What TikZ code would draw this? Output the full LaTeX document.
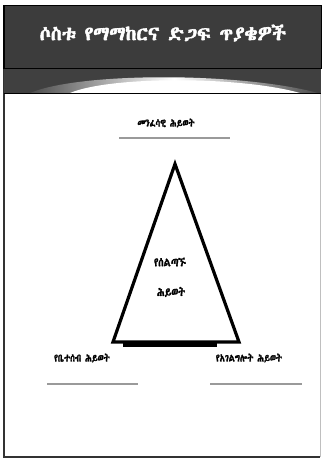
\documentclass[tikz,border=0pt]{standalone}
\usepackage{fontspec}
\usetikzlibrary{shadings}
\IfFontExistsTF{Abyssinica SIL}{\newfontfamily\ethfont{Abyssinica SIL}[FakeBold=2.5]}{\newfontfamily\ethfont{DejaVu Sans}}
\definecolor{band}{HTML}{3C3C3C}
\definecolor{rule}{HTML}{9A9A9A}
\newcommand{\tallt}[1]{\scalebox{1}[1.25]{#1}}
\tikzset{
  lbl/.style={font=\ethfont\fontsize{8.5}{10}\selectfont, inner sep=1pt},
  clbl/.style={font=\ethfont\fontsize{9.7}{11}\selectfont, inner sep=1pt},
  rulel/.style={draw=rule, line width=1.6pt},
}
\begin{document}
\begin{tikzpicture}[x=1pt,y=-1pt]
\useasboundingbox (0,0) rectangle (322,459);
\fill[white] (0,0) rectangle (322,459);
% page frame
\draw[black!80, line width=1.5pt] (4,69) -- (4,457) -- (320,457);
\draw[black!25, line width=1pt] (320,69) -- (320,457);
% title band
\fill[band] (4,5) rectangle (321,68);
\draw[black, line width=1pt] (4,5) rectangle (321,68);
\node[font=\ethfont\fontsize{19.6}{21}\selectfont, text=white] (title) at (163,33) {ሶስቱ የማማከርና ድጋፍ ጥያቄዎች};
% gradient strip
\fill[black!75] (4,69) rectangle (321,93);
\shade[left color=black!70, right color=black!70, middle color=white]
  (30,93) .. controls (80,72) and (240,72) .. (318,93) -- cycle;
\fill[white] (70,93) .. controls (110,76) and (240,76) .. (300,93) -- cycle;
\draw[black, line width=1pt] (4,93) -- (321,93);
% triangle
\coordinate (apex) at (175,164);
\coordinate (bl) at (113,342);
\coordinate (br) at (239,342);
\draw[black, line width=3.2pt, line join=miter] (apex) -- (br) -- (bl) -- cycle;
\fill[black] (123,342) rectangle (217,347);
% labels
\node[lbl] (top) at (166,123) {\tallt{መንፈሳዊ ሕይወት}};
\coordinate (t1) at (119,138); \coordinate (t2) at (230,138);
\draw[rulel] (t1) -- (t2);
\node[clbl] (c1) at (170,262) {\tallt{የሰልጣኙ}};
\node[clbl] (c2) at (171,292) {\tallt{ሕይወት}};
\node[lbl] (left) at (82,358) {\tallt{የቤተሰብ ሕይወት}};
\coordinate (l1) at (47,384); \coordinate (l2) at (138,384);
\draw[rulel] (l1) -- (l2);
\node[lbl] (right) at (249,358) {\tallt{የአገልግሎት ሕይወት}};
\coordinate (r1) at (210,384); \coordinate (r2) at (302,384);
\draw[rulel] (r1) -- (r2);
\end{tikzpicture}
\end{document}
